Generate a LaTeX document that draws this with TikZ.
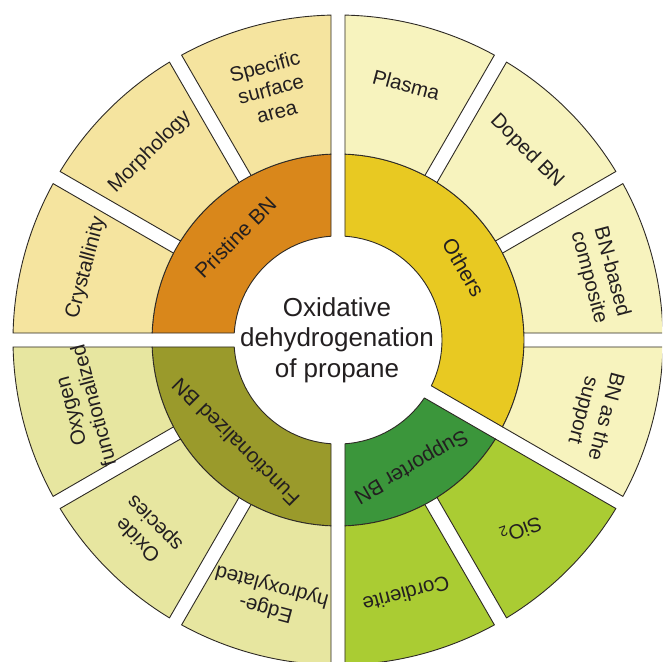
\documentclass[tikz,border=0pt]{standalone}
\usepackage{fontspec}
\setmainfont{Liberation Sans}

% fills of the inner (category) ring
\definecolor{catPristine}{HTML}{D9871B}
\definecolor{catOthers}{HTML}{E8C922}
\definecolor{catSupporter}{HTML}{3B963B}
\definecolor{catFunctional}{HTML}{9A9A2B}
% fills of the outer (item) ring
\definecolor{itemPristine}{HTML}{F5E49F}
\definecolor{itemOthers}{HTML}{F7F3BE}
\definecolor{itemSupporter}{HTML}{AACC33}
\definecolor{itemFunctional}{HTML}{E7E6A0}
\definecolor{labeltext}{HTML}{231F20}
\definecolor{edgeline}{HTML}{2E2A25}

% annular sector between two radial gaps of width 14
% #1 fill, #2 start angle, #3 end angle, #4 inner radius, #5 outer radius
\newcommand\ringsector[5]{%
  \pgfmathsetmacro\rsIa{#2+asin(7/#4)}%
  \pgfmathsetmacro\rsIb{#3-asin(7/#4)}%
  \pgfmathsetmacro\rsOa{#2+asin(7/#5)}%
  \pgfmathsetmacro\rsOb{#3-asin(7/#5)}%
  \draw[seg,fill=#1] (\rsIa:#4pt) arc[start angle=\rsIa, end angle=\rsIb, radius=#4pt]
    -- (\rsOb:#5pt) arc[start angle=\rsOb, end angle=\rsOa, radius=#5pt] -- cycle;
}

\begin{document}
\begin{tikzpicture}[x=1pt,y=1pt,
  seg/.style={draw=edgeline, line width=0.9pt, line join=round},
  itemlabel/.style={text=labeltext, font=\fontsize{20.5}{23.5}\selectfont,
    align=center, inner sep=0pt},
  catlabel/.style={text=labeltext, font=\fontsize{21}{24}\selectfont,
    align=center, inner sep=0pt},
  hublabel/.style={text=labeltext, font=\fontsize{26}{30.5}\selectfont,
    align=center, inner sep=0pt}]
\useasboundingbox[fill=white] (-338,-322) rectangle (324,340);

\begin{scope}
  \clip (-338,-322) rectangle (324,340);
  % inner ring: categories
  \ringsector{catPristine}{90}{180}{104}{186}
  \ringsector{catFunctional}{180}{270}{104}{186}
  \ringsector{catSupporter}{270}{330}{104}{186}
  \ringsector{catOthers}{-30}{90}{104}{186}
  % outer ring: items
  \ringsector{itemPristine}{90}{120}{186}{325}
  \ringsector{itemPristine}{120}{150}{186}{325}
  \ringsector{itemPristine}{150}{180}{186}{325}
  \ringsector{itemFunctional}{180}{210}{186}{325}
  \ringsector{itemFunctional}{210}{240}{186}{325}
  \ringsector{itemFunctional}{240}{270}{186}{325}
  \ringsector{itemSupporter}{270}{300}{186}{325}
  \ringsector{itemSupporter}{300}{330}{186}{325}
  \ringsector{itemOthers}{-30}{0}{186}{325}
  \ringsector{itemOthers}{0}{30}{186}{325}
  \ringsector{itemOthers}{30}{60}{186}{325}
  \ringsector{itemOthers}{60}{90}{186}{325}
\end{scope}

% hub
\node[hublabel] (hub) at (-1,0) {Oxidative\\dehydrogenation\\of propane};

% category labels
\node[catlabel, rotate=45]  (pristine)   at (135:145) {Pristine BN};
\node[catlabel, rotate=135] (functional) at (225:145) {Functionalized BN};
\node[catlabel, rotate=210] (supporter)  at (300:145) {Supporter BN};
\node[catlabel, rotate=-60] (others)     at (30:145)  {Others};

% item labels
\node[itemlabel, rotate=15]   (surface)    at (105:260) {Specific\\surface\\area};
\node[itemlabel, rotate=45]   (morphology) at (135:266) {Morphology};
\node[itemlabel, rotate=75]   (crystal)    at (164:262) {Crystallinity};
\node[itemlabel, rotate=105]  (oxygen)     at (195:265) {Oxygen\\functionalized};
\node[itemlabel, rotate=135]  (oxide)      at (225:270) {Oxide\\species};
\node[itemlabel, rotate=165]  (edge)       at (255:266) {Edge-\\hydroxylated};
\node[itemlabel, rotate=195]  (cordierite) at (285:263) {Cordierite};
\node[itemlabel, rotate=200]  (sio)        at (314:263) {SiO\textsubscript{2}};
\node[itemlabel, rotate=-105] (support)    at (-16:266) {BN as the\\support};
\node[itemlabel, rotate=-75]  (composite)  at (14:270)  {BN-based\\composite};
\node[itemlabel, rotate=-45]  (doped)      at (45:267)  {Doped BN};
\node[itemlabel, rotate=-15]  (plasma)     at (75:264)  {Plasma};
\end{tikzpicture}
\end{document}
